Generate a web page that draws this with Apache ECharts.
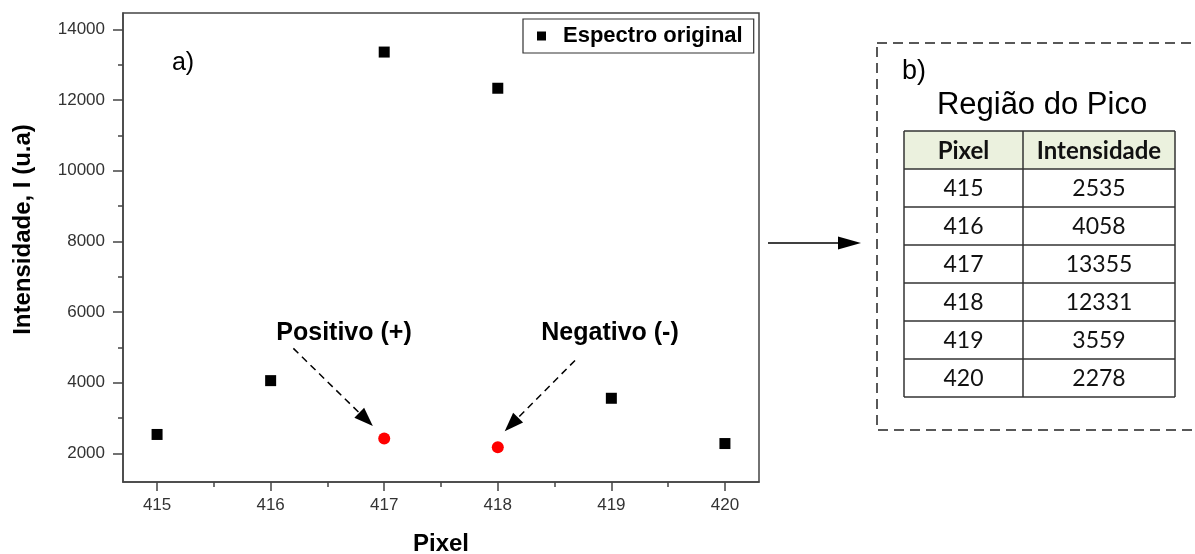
<!DOCTYPE html>
<html>
<head>
<meta charset="utf-8">
<title>Espectro original - Região do Pico</title>
<script src="https://cdn.jsdelivr.net/npm/echarts@6/dist/echarts.min.js"></script>
<style>
  html, body { margin: 0; padding: 0; background: #fff; }
  #chart { width: 1195px; height: 554px; }
</style>
</head>
<body>
<div id="chart"></div>
<script>
// dados
const pixels = [415, 416, 417, 418, 419, 420];
const intensities = [2535, 4058, 13355, 12331, 3559, 2278];
const peakPixels = [417, 418];
const peakValues = [2420, 2175];

const xTicks = [415, 416, 417, 418, 419, 420];
const xMinorTicks = [415.5, 416.5, 417.5, 418.5, 419.5];
const yTicks = [2000, 4000, 6000, 8000, 10000, 12000, 14000];
const yMinorTicks = [3000, 5000, 7000, 9000, 11000, 13000];

const tableHeader = ['Pixel', 'Intensidade'];

// setas tracejadas (coordenadas de dados: início -> ponta)
const arrowPositivo = [[416.2, 4970], [416.84, 2960]];
const arrowNegativo = [[418.68, 4630], [418.12, 2820]];

const chart = echarts.init(document.getElementById('chart'), null, { renderer: 'canvas' });

const ARIAL = 'Liberation Sans';
const AXIS_COLOR = '#444';

const scatterData = pixels.map((p, i) => [p, intensities[i]]);
const peakData = peakPixels.map((p, i) => [p, peakValues[i]]);

// tabela da direita montada a partir dos arrays
const tLeft = 904, tMid = 1023, tRight = 1175, tTop = 131, rowH = 38;
const colCenters = [(tLeft + tMid) / 2, (tMid + tRight) / 2];
const tableEls = [];
tableEls.push({
  type: 'rect',
  shape: { x: tLeft, y: tTop, width: tRight - tLeft, height: rowH },
  style: { fill: '#ebf1de' }
});
tableHeader.forEach((h, c) => {
  tableEls.push({
    type: 'text',
    style: {
      text: h, x: colCenters[c], y: tTop + rowH / 2 + 1,
      align: 'center', verticalAlign: 'middle',
      font: 'bold 24px Lato', fill: '#111'
    }
  });
});
pixels.forEach((p, r) => {
  const cy = tTop + rowH * (r + 1) + rowH / 2 + 1;
  [String(p), String(intensities[r])].forEach((txt, c) => {
    tableEls.push({
      type: 'text',
      style: {
        text: txt, x: colCenters[c], y: cy,
        align: 'center', verticalAlign: 'middle',
        font: '23px Lato', fill: '#111'
      }
    });
  });
});
const nRows = pixels.length + 1;
for (let r = 0; r <= nRows; r++) {
  tableEls.push({
    type: 'line',
    shape: { x1: tLeft, y1: tTop + r * rowH, x2: tRight, y2: tTop + r * rowH },
    style: { stroke: '#333', lineWidth: 1.5 }
  });
}
[tLeft, tMid, tRight].forEach(x => {
  tableEls.push({
    type: 'line',
    shape: { x1: x, y1: tTop, x2: x, y2: tTop + nRows * rowH },
    style: { stroke: '#333', lineWidth: 1.5 }
  });
});

const option = {
  backgroundColor: '#fff',
  animation: false,
  grid: {
    left: 123, top: 13, width: 636, height: 469,
    containLabel: false,
    outerBoundsMode: 'none',
    show: true,
    borderColor: AXIS_COLOR,
    borderWidth: 1.5,
    backgroundColor: 'transparent'
  },
  legend: {
    data: [{ name: 'Espectro original', icon: 'rect' }],
    left: 523, top: 19,
    orient: 'horizontal',
    itemWidth: 9, itemHeight: 9,
    padding: [6, 11, 6, 14],
    borderColor: '#333', borderWidth: 1.2,
    selectedMode: false,
    itemStyle: { opacity: 1 },
    textStyle: {
      fontFamily: ARIAL, fontWeight: 'bold', fontSize: 22, color: '#000',
      padding: [0, 0, 0, 12]
    }
  },
  xAxis: [
    {
      type: 'value', min: 414.7, max: 420.3, position: 'bottom',
      name: 'Pixel', nameLocation: 'middle', nameGap: 50,
      nameTextStyle: { fontFamily: ARIAL, fontWeight: 'bold', fontSize: 24, color: '#000' },
      axisLine: { show: true, onZero: false, lineStyle: { color: AXIS_COLOR, width: 1.5 } },
      axisTick: { show: true, customValues: xTicks, length: 9, lineStyle: { color: AXIS_COLOR, width: 1.5 } },
      axisLabel: {
        customValues: xTicks, fontFamily: ARIAL, fontSize: 17, color: '#333', margin: 15,
        formatter: v => String(v)
      },
      splitLine: { show: false }
    },
    {
      type: 'value', min: 414.7, max: 420.3, position: 'bottom',
      axisLine: { show: false, onZero: false },
      axisTick: { show: true, customValues: xMinorTicks, length: 5, lineStyle: { color: AXIS_COLOR, width: 1.5 } },
      axisLabel: { show: false },
      splitLine: { show: false }
    }
  ],
  yAxis: [
    {
      type: 'value', min: 1190, max: 14460, position: 'left',
      name: 'Intensidade, I (u.a)', nameLocation: 'middle', nameGap: 88,
      nameTextStyle: {
        fontFamily: ARIAL, fontWeight: 'bold', fontSize: 24, color: '#000',
        padding: [0, 0, 0, 36]
      },
      axisLine: { show: true, onZero: false, lineStyle: { color: AXIS_COLOR, width: 1.5 } },
      axisTick: { show: true, customValues: yTicks, length: 10, lineStyle: { color: AXIS_COLOR, width: 1.5 } },
      axisLabel: {
        customValues: yTicks, fontFamily: ARIAL, fontSize: 17, color: '#333', margin: 18,
        formatter: v => String(v)
      },
      splitLine: { show: false }
    },
    {
      type: 'value', min: 1190, max: 14460, position: 'left',
      axisLine: { show: false, onZero: false },
      axisTick: { show: true, customValues: yMinorTicks, length: 5, lineStyle: { color: AXIS_COLOR, width: 1.5 } },
      axisLabel: { show: false },
      splitLine: { show: false }
    }
  ],
  series: [
    {
      name: 'Espectro original',
      type: 'scatter',
      symbol: 'rect',
      symbolSize: 11,
      itemStyle: { color: '#000', opacity: 1 },
      data: scatterData,
      silent: true
    },
    {
      name: 'Pico',
      type: 'scatter',
      symbol: 'circle',
      symbolSize: 12,
      itemStyle: { color: '#ff0000', opacity: 1 },
      data: peakData,
      silent: true,
      markLine: {
        silent: true,
        animation: false,
        symbol: ['none', 'triangle'],
        symbolSize: [14, 19],
        label: { show: false },
        lineStyle: { color: '#000', width: 1.5, type: [7, 5], opacity: 1 },
        itemStyle: { color: '#000' },
        emphasis: { disabled: true },
        data: [
          [{ coord: arrowPositivo[0] }, { coord: arrowPositivo[1] }],
          [{ coord: arrowNegativo[0] }, { coord: arrowNegativo[1] }]
        ]
      }
    }
  ],
  graphic: [
    {
      type: 'text',
      style: { text: 'a)', x: 183, y: 63, align: 'center', verticalAlign: 'middle', font: '25px "Liberation Sans"', fill: '#000' }
    },
    {
      type: 'text',
      style: { text: 'Positivo (+)', x: 344, y: 333, align: 'center', verticalAlign: 'middle', font: 'bold 25px "Liberation Sans"', fill: '#000' }
    },
    {
      type: 'text',
      style: { text: 'Negativo (-)', x: 610, y: 333, align: 'center', verticalAlign: 'middle', font: 'bold 25px "Liberation Sans"', fill: '#000' }
    },
    // seta para a tabela
    {
      type: 'line',
      shape: { x1: 768, y1: 243, x2: 842, y2: 243 },
      style: { stroke: '#000', lineWidth: 1.5 }
    },
    {
      type: 'polygon',
      shape: { points: [[838, 236.5], [861, 243], [838, 249.5]] },
      style: { fill: '#000' }
    },
    // caixa tracejada
    {
      type: 'rect',
      shape: { x: 877, y: 43, width: 340, height: 387 },
      style: { fill: 'none', stroke: '#222', lineWidth: 1.5, lineDash: [10, 6] }
    },
    {
      type: 'text',
      style: { text: 'b)', x: 902, y: 72, align: 'left', verticalAlign: 'middle', font: '27px "Liberation Sans"', fill: '#000' }
    },
    {
      type: 'text',
      style: { text: 'Região do Pico', x: 1042, y: 105, align: 'center', verticalAlign: 'middle', font: '31px "Liberation Sans"', fill: '#000' }
    }
  ].concat(tableEls)
};

chart.setOption(option);
</script>
</body>
</html>
